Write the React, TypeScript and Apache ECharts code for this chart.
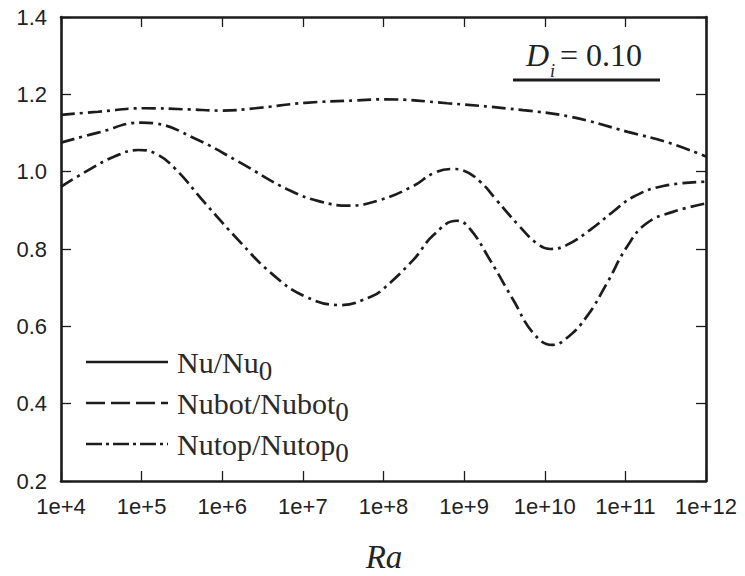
import React, { useEffect, useRef } from "react";
import * as echarts from "echarts";

// log10(Ra) positions and ratios
const raLogTop = [4, 4.46, 5.04, 5.58, 5.99, 6.41, 7.03, 7.65, 8.02, 8.79, 9.73, 10.32, 11.03, 11.55, 12];
const ratioTop = [1.147, 1.155, 1.164, 1.161, 1.158, 1.164, 1.178, 1.184, 1.187, 1.177, 1.159, 1.142, 1.103, 1.074, 1.039];

const raLogMid = [4, 4.46, 5.0, 5.16, 5.66, 6.2, 6.82, 7.23, 7.56, 7.96, 8.37, 8.62, 8.85, 8.99, 9.2, 9.4, 9.69, 9.9, 10.07, 10.27, 10.56, 10.85, 11.1, 11.47, 12];
const ratioMid = [1.075, 1.101, 1.127, 1.125, 1.086, 1.026, 0.953, 0.922, 0.912, 0.927, 0.963, 0.996, 1.007, 1.003, 0.974, 0.927, 0.858, 0.815, 0.8, 0.81, 0.849, 0.897, 0.935, 0.963, 0.974];

const raLogLow = [4, 4.34, 4.67, 4.96, 5.17, 5.41, 5.79, 6.2, 6.61, 7.03, 7.48, 7.85, 7.96, 8.37, 8.62, 8.91, 9.07, 9.32, 9.61, 9.86, 10.09, 10.27, 10.52, 10.77, 11.02, 11.26, 11.59, 12];
const ratioLow = [0.961, 1.004, 1.04, 1.056, 1.047, 1.009, 0.918, 0.823, 0.737, 0.677, 0.655, 0.677, 0.69, 0.772, 0.836, 0.873, 0.853, 0.772, 0.668, 0.582, 0.552, 0.569, 0.625, 0.711, 0.806, 0.866, 0.896, 0.918];

const legendNames = ["Nu/Nu", "Nubot/Nubot", "Nutop/Nutop"];
const legendSub = "0";
const xTitle = "Ra";
const annotationVar = "D";
const annotationSub = "i";
const annotationValue = "= 0.10";

const SANS = '"Liberation Sans", Arial, sans-serif';
const SERIF = '"Liberation Serif", "Times New Roman", serif';
const INK = "#1c1c1c";
const DASH_DOT = [14, 5, 3, 5];

const pairs = (xs: number[], ys: number[]) => xs.map((x, i) => [x, ys[i]]);

export default function App() {
  const ref = useRef<HTMLDivElement>(null);

  useEffect(() => {
    if (!ref.current) return;
    const chart = echarts.init(ref.current, null, { renderer: "svg" });

    const axisLine = { show: true, onZero: false, lineStyle: { color: INK, width: 2.6 } };
    const tick = { show: true, inside: true, length: 10, lineStyle: { color: INK, width: 1.3 } };

    const xBase = {
      type: "value" as const,
      min: 4,
      max: 12,
      interval: 1,
      axisLine,
      axisTick: tick,
      splitLine: { show: false },
    };
    const yBase = {
      type: "value" as const,
      min: 0.2,
      max: 1.4,
      interval: 0.2,
      axisLine,
      axisTick: tick,
      splitLine: { show: false },
    };

    const lineSeries = (name: string, data: number[][]) => ({
      name,
      type: "line" as const,
      data,
      smooth: 0.45,
      symbol: "none",
      lineStyle: { color: INK, width: 2.7, type: DASH_DOT, cap: "butt" },
      xAxisIndex: 0,
      yAxisIndex: 0,
    });

    const legendDash = [[], [19, 6], [16, 4, 3, 4]];
    const legendY = [362, 403, 444];
    const legendGraphics: any[] = [];
    legendNames.forEach((n, i) => {
      legendGraphics.push({
        type: "line",
        shape: { x1: 86, y1: legendY[i], x2: 168, y2: legendY[i] },
        style: { stroke: INK, lineWidth: 2.6, lineDash: legendDash[i].length ? legendDash[i] : null },
      });
      legendGraphics.push({
        type: "text",
        x: 177,
        y: legendY[i],
        style: {
          text: `{a|${n}}{s|${legendSub}}`,
          verticalAlign: "middle",
          align: "left",
          rich: {
            a: { fontSize: 30, fontFamily: SERIF, fill: "#2a2a2a", lineHeight: 44, verticalAlign: "middle" },
            s: { fontSize: 27, fontFamily: SERIF, fill: "#2a2a2a", lineHeight: 30, verticalAlign: "bottom" },
          },
        },
      });
    });

    chart.setOption({
      animation: false,
      backgroundColor: "#ffffff",
      grid: { left: 61, right: 39, top: 17, bottom: 95, containLabel: false },
      xAxis: [
        {
          ...xBase,
          position: "bottom",
          axisLabel: {
            show: true,
            margin: 14,
            fontSize: 22,
            fontFamily: SANS,
            color: "#222",
            formatter: (v: number) => `1e+${Math.round(v)}`,
          },
        },
        { ...xBase, position: "top", axisLabel: { show: false } },
      ],
      yAxis: [
        {
          ...yBase,
          position: "left",
          axisLabel: {
            show: true,
            margin: 14,
            fontSize: 22,
            fontFamily: SANS,
            color: "#222",
            formatter: (v: number) => v.toFixed(1),
          },
        },
        { ...yBase, position: "right", axisLabel: { show: false } },
      ],
      series: [
        lineSeries("Nu/Nu0", pairs(raLogTop, ratioTop)),
        lineSeries("Nubot/Nubot0", pairs(raLogMid, ratioMid)),
        lineSeries("Nutop/Nutop0", pairs(raLogLow, ratioLow)),
      ],
      graphic: [
        {
          type: "text",
          x: 384,
          y: 557,
          style: {
            text: xTitle,
            fontSize: 33,
            fontFamily: SERIF,
            fontStyle: "italic",
            fill: "#222",
            align: "center",
            verticalAlign: "middle",
          },
        },
        {
          type: "text",
          x: 526,
          y: 55,
          style: {
            text: annotationVar,
            fontSize: 32,
            fontFamily: SERIF,
            fontStyle: "italic",
            fill: "#222",
            align: "left",
            verticalAlign: "middle",
          },
        },
        {
          type: "text",
          x: 550,
          y: 71,
          style: {
            text: annotationSub,
            fontSize: 18,
            fontFamily: SERIF,
            fontStyle: "italic",
            fill: "#222",
            align: "left",
            verticalAlign: "middle",
          },
        },
        {
          type: "text",
          x: 560,
          y: 55,
          style: {
            text: annotationValue,
            fontSize: 32,
            fontFamily: SERIF,
            fill: "#222",
            align: "left",
            verticalAlign: "middle",
          },
        },
        {
          type: "line",
          shape: { x1: 513, y1: 80, x2: 660, y2: 80 },
          style: { stroke: INK, lineWidth: 3 },
        },
        ...legendGraphics,
      ],
    });

    return () => chart.dispose();
  }, []);

  return (
    <div
      ref={ref}
      style={{ position: "fixed", left: 0, top: 0, width: 745, height: 576, background: "#fff" }}
    />
  );
}
